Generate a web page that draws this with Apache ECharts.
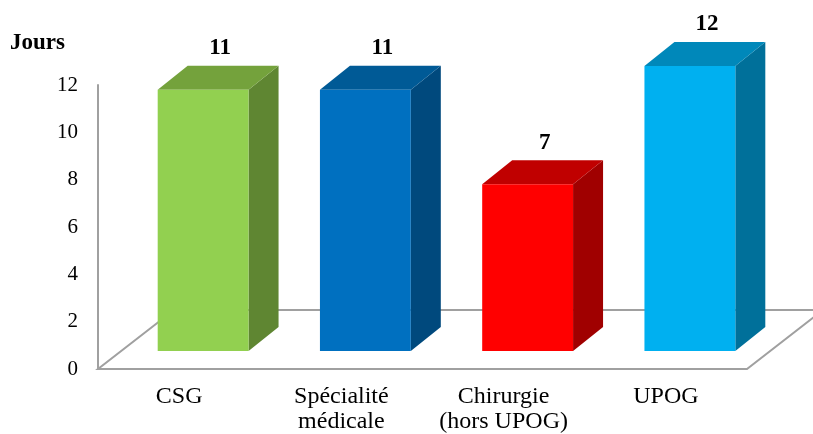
<!DOCTYPE html>
<html>
<head>
<meta charset="utf-8">
<script src="https://cdn.jsdelivr.net/npm/echarts@6/dist/echarts.min.js"></script>
<style>
  html, body { margin: 0; padding: 0; background: #fff; }
  #chart { width: 813px; height: 434px; }
</style>
</head>
<body>
<div id="chart"></div>
<script>
// data
const categories = ["CSG", "Spécialité\nmédicale", "Chirurgie\n(hors UPOG)", "UPOG"];
const jours = [11, 11, 7, 12];
const yTicks = [0, 2, 4, 6, 8, 10, 12];

// front / top / side colours of each column
const faceColors = [
  ["#92D050", "#74A23C", "#5F8632"],
  ["#0070C0", "#005A96", "#00497D"],
  ["#FF0000", "#C00000", "#A00000"],
  ["#00B0F0", "#0088BA", "#00709A"],
];

const FONT = "Liberation Serif";
const AXIS_GRAY = "#A0A0A0";

// 3d look (pixels)
const setBack = [24, -18]; // front of column relative to front edge of floor
const depth = [30, -24];   // column depth
const floorDepth = [76, -59];

const chart = echarts.init(document.getElementById("chart"));

function renderFloor(params, api) {
  const band = api.size([1, 0])[0];
  const a = api.coord([0, 0]);
  const b = api.coord([categories.length - 1, 0]);
  const x0 = a[0] - band / 2;
  const x1 = b[0] + band / 2;
  const y = a[1];
  return {
    type: "polyline",
    shape: {
      points: [
        [x0 + floorDepth[0], y + floorDepth[1]],
        [x0, y],
        [x1, y],
        [x1 + floorDepth[0], y + floorDepth[1]],
        [x0 + floorDepth[0], y + floorDepth[1]],
      ],
    },
    style: { stroke: AXIS_GRAY, lineWidth: 2, fill: null },
  };
}

function renderColumn(params, api) {
  const i = api.value(0);
  const v = api.value(1);
  const base = api.coord([i, 0]);
  const top = api.coord([i, v]);
  const half = api.size([1, 0])[0] * 0.28;
  const L = base[0] + setBack[0] - half;
  const R = base[0] + setBack[0] + half;
  const B = base[1] + setBack[1];
  const T = top[1] + setBack[1] - 1;
  const c = faceColors[params.dataIndex];
  const dx = depth[0], dy = depth[1];
  return {
    type: "group",
    children: [
      {
        type: "polygon",
        shape: { points: [[R, T], [R + dx, T + dy], [R + dx, B + dy], [R, B]] },
        style: { fill: c[2] },
      },
      {
        type: "polygon",
        shape: { points: [[L, T], [L + dx, T + dy], [R + dx, T + dy], [R, T]] },
        style: { fill: c[1] },
      },
      {
        type: "rect",
        shape: { x: L, y: T, width: R - L, height: B - T },
        style: { fill: c[0] },
      },
      {
        type: "text",
        x: (L + R) / 2 + dx / 2 + 2,
        y: T + dy - 6,
        style: {
          text: String(v),
          fill: "#000",
          font: "bold 23px '" + FONT + "'",
          align: "center",
          verticalAlign: "bottom",
        },
      },
    ],
  };
}

chart.setOption({
  animation: false,
  title: {
    text: "Jours",
    left: 5,
    top: 27,
    textStyle: { fontFamily: FONT, fontWeight: "bold", fontSize: 23, color: "#000" },
  },
  grid: {
    left: 98, right: 66, top: 85, bottom: 65,
    containLabel: false,
    outerBoundsMode: "none",
  },
  xAxis: {
    type: "category",
    data: categories,
    axisLine: { show: false },
    axisTick: { show: false },
    axisLabel: {
      interval: 0,
      hideOverlap: false,
      fontFamily: FONT,
      fontSize: 24,
      color: "#000",
      margin: 15,
      lineHeight: 25,
    },
  },
  yAxis: {
    type: "value",
    min: yTicks[0],
    max: yTicks[yTicks.length - 1],
    interval: 2,
    axisLine: { show: true, lineStyle: { color: AXIS_GRAY, width: 2 } },
    axisTick: { show: false },
    splitLine: { show: false },
    axisLabel: { fontFamily: FONT, fontSize: 21, color: "#000", margin: 20 },
  },
  series: [
    {
      type: "custom",
      renderItem: renderFloor,
      data: [[0, 0]],
      z: 1,
      silent: true,
    },
    {
      type: "custom",
      renderItem: renderColumn,
      data: jours.map((v, i) => [i, v]),
      z: 2,
      encode: { x: 0, y: 1 },
    },
  ],
});
</script>
</body>
</html>
